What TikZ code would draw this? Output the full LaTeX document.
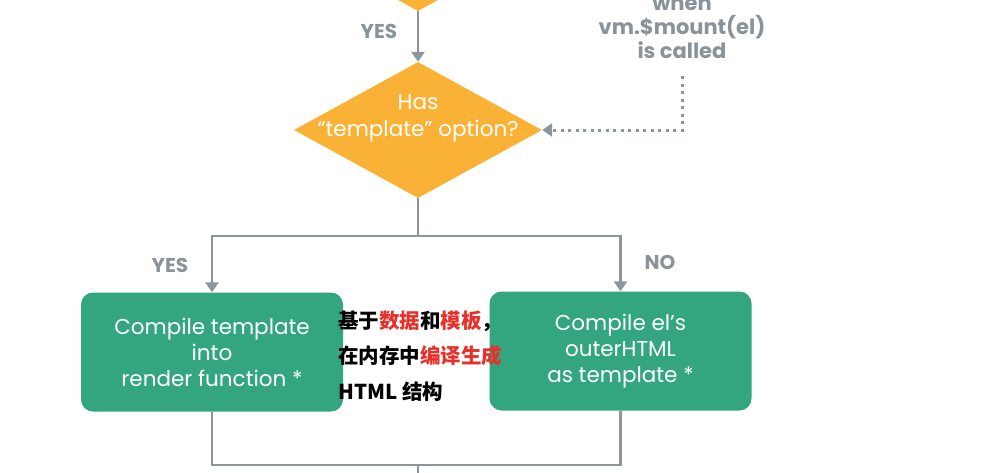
\documentclass[tikz,border=0pt]{standalone}
\usepackage{fontspec}
\setmainfont{Poppins}
\newfontfamily\cjk{Noto Sans CJK SC}
\usetikzlibrary{shapes.geometric, arrows.meta, positioning}
\definecolor{optorange}{HTML}{FAB236}
\definecolor{boxgreen}{HTML}{33A67F}
\definecolor{linegray}{HTML}{8D969D}
\definecolor{labelgray}{HTML}{8A9399}
\definecolor{notered}{HTML}{E8302A}
\tikzset{
  flowline/.style={draw=linegray, line width=2.8pt},
  flowarrow/.style={flowline, -{Triangle[length=10pt,width=13pt]}},
  dotarrow/.style={draw=linegray, line width=3pt, dash pattern=on 3pt off 4.5pt,
                   -{Triangle[length=10pt,width=13pt]}},
  decision/.style={diamond, fill=optorange, minimum width=248pt,
                   minimum height=136pt, inner sep=0pt},
  dectext/.style={text=white, align=center, font=\fontsize{21.5}{27}\selectfont},
  stepbox/.style={rectangle, rounded corners=12pt, fill=boxgreen, minimum width=262pt,
                  minimum height=119pt, text=white, align=center,
                  font=\fontsize{21.5}{26}\selectfont},
  answer/.style={text=labelgray, font=\bfseries\fontsize{20}{22}\selectfont},
  callnote/.style={text=labelgray, align=center, font=\bfseries\fontsize{21}{24}\selectfont},
  cnnote/.style={align=left, inner sep=0pt, font=\cjk\bfseries\fontsize{20.5}{35.5}\selectfont},
}
\newcommand{\hl}[1]{\textcolor{notered}{#1}}

\begin{document}
\begin{tikzpicture}[x=1pt, y=-1pt]
  \useasboundingbox (0,0) rectangle (990,472);
  \clip (0,0) rectangle (990,472);
  \fill[white] (0,0) rectangle (990,472);

  % decisions
  \node[decision] (prev) at (418,-57) {};
  \node[decision] (has) at (418,130) {};
  \node[dectext] (hastext) at (418,118) {Has\\“template” option?};

  % compile steps
  \node[stepbox] (tpl) at (212,352) {Compile template\\into\\render function *};
  \node[stepbox] (outer) at (620.5,351) {Compile el’s\\outerHTML\\as template *};

  % notes
  \node[callnote] (mount) at (682,27) {when\\vm.\$mount(el)\\is called};
  \node[cnnote, anchor=west] (note) at (338,356)
    {基于\hl{数据}和\hl{模板}，\\在内存中\hl{编译生成}\\HTML 结构};

  \coordinate (dotstart) at (682,76);
  \coordinate (split) at (418,236);
  \coordinate (join) at (418,465);
  \coordinate (joinout) at (418,480);

  \draw[flowarrow] (prev.south) -- node[answer, left=16pt, pos=0.4] {YES} (has.north);
  \draw[dotarrow] (dotstart) |- (has.east);
  \draw[flowline] (has.south) -- (split);
  \draw[flowarrow] (split) -| (tpl.north);
  \draw[flowarrow] (split) -| (outer.north);
  \draw[flowline] (tpl.south) |- (join);
  \draw[flowline] (outer.south) |- (join);
  \draw[flowline] (join) -- (joinout);

  \node[answer] (yes) at (170,265) {YES};
  \node[answer] (no) at (660,262) {NO};
\end{tikzpicture}
\end{document}
